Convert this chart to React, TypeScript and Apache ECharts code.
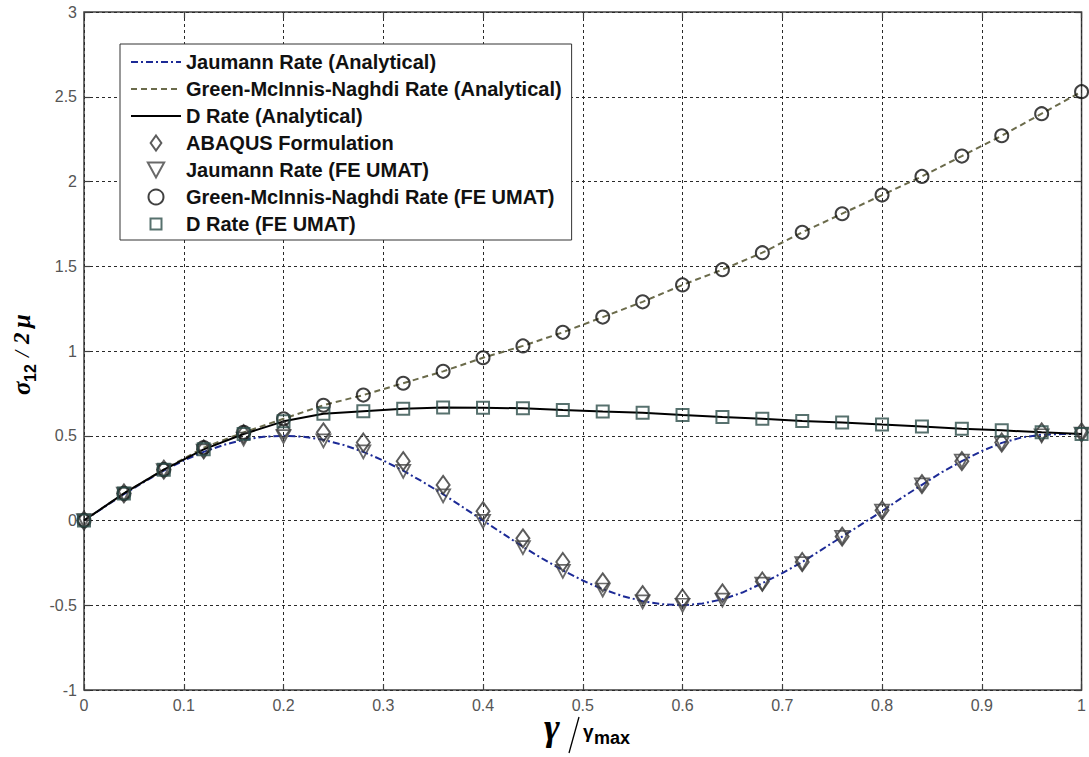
import { useEffect, useRef } from "react";
import * as echarts from "echarts";

// Normalised shear strain gamma / gamma_max
const strainFine = [
  0, 0.02, 0.04, 0.06, 0.08, 0.1, 0.12, 0.14, 0.16, 0.18, 0.2, 0.22, 0.24, 0.26, 0.28, 0.3, 0.32,
  0.34, 0.36, 0.38, 0.4, 0.42, 0.44, 0.46, 0.48, 0.5, 0.52, 0.54, 0.56, 0.58, 0.6, 0.62, 0.64, 0.66,
  0.68, 0.7, 0.72, 0.74, 0.76, 0.78, 0.8, 0.82, 0.84, 0.86, 0.88, 0.9, 0.92, 0.94, 0.96, 0.98, 1,
];
const strainFE = [
  0, 0.04, 0.08, 0.12, 0.16, 0.2, 0.24, 0.28, 0.32, 0.36, 0.4, 0.44, 0.48, 0.52, 0.56, 0.6, 0.64,
  0.68, 0.72, 0.76, 0.8, 0.84, 0.88, 0.92, 0.96, 1,
];

// Shear stress sigma_12 / 2mu
const jaumannAnalytical = [
  0, 0.078, 0.155, 0.227, 0.294, 0.354, 0.405, 0.446, 0.476, 0.494, 0.5, 0.494, 0.476, 0.446, 0.405,
  0.354, 0.294, 0.227, 0.155, 0.078, 0, -0.078, -0.155, -0.227, -0.294, -0.354, -0.405, -0.446,
  -0.476, -0.494, -0.5, -0.49, -0.465, -0.425, -0.37, -0.31, -0.245, -0.17, -0.095, -0.02, 0.055,
  0.135, 0.21, 0.285, 0.35, 0.41, 0.458, 0.49, 0.506, 0.51, 0.51,
];
const gmnAnalytical = [
  0, 0.16, 0.3, 0.43, 0.52, 0.6, 0.68, 0.74, 0.81, 0.88, 0.96, 1.03, 1.11, 1.2, 1.29, 1.39, 1.48,
  1.58, 1.7, 1.81, 1.92, 2.03, 2.15, 2.27, 2.4, 2.53,
];
const dRateAnalytical = [
  0, 0.16, 0.3, 0.42, 0.51, 0.585, 0.63, 0.645, 0.66, 0.667, 0.665, 0.662, 0.652, 0.643, 0.635,
  0.622, 0.61, 0.6, 0.587, 0.578, 0.566, 0.555, 0.542, 0.532, 0.52, 0.51,
];
const abaqusFormulation = [
  0, 0.16, 0.3, 0.42, 0.51, 0.535, 0.52, 0.46, 0.35, 0.21, 0.055, -0.105, -0.245, -0.365, -0.44,
  -0.46, -0.43, -0.36, -0.245, -0.095, 0.06, 0.215, 0.35, 0.46, 0.52, 0.52,
];
const jaumannFE = [
  0, 0.155, 0.295, 0.41, 0.48, 0.495, 0.47, 0.405, 0.29, 0.145, -0.005, -0.16, -0.3, -0.41, -0.48,
  -0.5, -0.47, -0.375, -0.255, -0.1, 0.055, 0.21, 0.35, 0.455, 0.5, 0.51,
];
const gmnFE = [
  0, 0.16, 0.3, 0.43, 0.52, 0.6, 0.68, 0.74, 0.81, 0.88, 0.96, 1.03, 1.11, 1.2, 1.29, 1.39, 1.48,
  1.58, 1.7, 1.81, 1.92, 2.03, 2.15, 2.27, 2.4, 2.53,
];
const dRateFE = [
  0, 0.16, 0.3, 0.42, 0.51, 0.585, 0.63, 0.645, 0.66, 0.667, 0.665, 0.662, 0.652, 0.643, 0.635,
  0.622, 0.61, 0.6, 0.587, 0.578, 0.566, 0.555, 0.542, 0.532, 0.52, 0.51,
];

const seriesNames = [
  "Jaumann Rate (Analytical)",
  "Green-McInnis-Naghdi Rate (Analytical)",
  "D Rate (Analytical)",
  "ABAQUS Formulation",
  "Jaumann Rate (FE UMAT)",
  "Green-McInnis-Naghdi Rate (FE UMAT)",
  "D Rate (FE UMAT)",
];

const pair = (xs: number[], ys: number[]) => xs.map((x, i) => [x, ys[i]]);

const DIAMOND = "path://M5,0 L10,7 L5,14 L0,7 Z";
const TRIANGLE_DOWN = "path://M0,0 L12,0 L6,11 Z";
// Legend square drawn smaller than the legend icon box
const LEGEND_SQUARE = "path://M0,0 L0,0 M2,2 L13,2 L13,13 L2,13 Z M15,15 L15,15";

const axisColor = "#404040";
const labelStyle = { color: "#555", fontSize: 16, fontFamily: "Liberation Sans, Arial, sans-serif" };
const gridLine = { show: true, lineStyle: { color: "#2a2a2a", type: [3, 3] as number[], width: 1 } };
const tick = { show: true, inside: true, length: 6, lineStyle: { color: axisColor, width: 1.2 } };
const clear = "rgba(255,255,255,0)";

const hollow = (color: string, w = 1.8) => ({ color: clear, borderColor: color, borderWidth: w });

const option = {
  animation: false,
  backgroundColor: "#ffffff",
  grid: {
    left: 84,
    right: 3,
    top: 12,
    bottom: 67,
    show: true,
    borderColor: axisColor,
    borderWidth: 1.5,
    backgroundColor: "#ffffff",
  },
  xAxis: [
    {
      type: "value",
      min: 0,
      max: 1,
      interval: 0.1,
      position: "bottom",
      axisLine: { show: false, onZero: false },
      axisTick: tick,
      axisLabel: { ...labelStyle, margin: 7 },
      splitLine: gridLine,
    },
    {
      type: "value",
      min: 0,
      max: 1,
      interval: 0.1,
      position: "top",
      axisLine: { show: false, onZero: false },
      axisTick: tick,
      axisLabel: { show: false },
      splitLine: { show: false },
    },
  ],
  yAxis: [
    {
      type: "value",
      min: -1,
      max: 3,
      interval: 0.5,
      position: "left",
      axisLine: { show: false, onZero: false },
      axisTick: tick,
      axisLabel: { ...labelStyle, margin: 7 },
      splitLine: gridLine,
    },
    {
      type: "value",
      min: -1,
      max: 3,
      interval: 0.5,
      position: "right",
      axisLine: { show: false, onZero: false },
      axisTick: tick,
      axisLabel: { show: false },
      splitLine: { show: false },
    },
  ],
  legend: {
    orient: "vertical",
    left: 120,
    top: 44,
    padding: [8, 10, 6, 10],
    itemGap: 7,
    itemWidth: 50,
    itemHeight: 15,
    selectedMode: false,
    backgroundColor: "#ffffff",
    borderColor: "#333",
    borderWidth: 1,
    textStyle: {
      fontFamily: "Liberation Sans, Arial, sans-serif",
      fontSize: 20,
      fontWeight: "bold",
      color: "#111",
      lineHeight: 20,
    },
    data: [
      seriesNames[0],
      seriesNames[1],
      seriesNames[2],
      seriesNames[3],
      seriesNames[4],
      seriesNames[5],
      { name: seriesNames[6], icon: LEGEND_SQUARE },
    ],
  },
  series: [
    {
      name: seriesNames[0],
      type: "line",
      data: pair(strainFine, jaumannAnalytical),
      symbol: "none",
      lineStyle: { color: "#1c2a96", width: 2, type: [7, 3, 2, 3] },
      itemStyle: { color: clear, borderWidth: 0 },
      z: 2,
    },
    {
      name: seriesNames[1],
      type: "line",
      data: pair(strainFE, gmnAnalytical),
      symbol: "none",
      lineStyle: { color: "#6b6b4b", width: 2, type: [6, 4] },
      itemStyle: { color: clear, borderWidth: 0 },
      z: 2,
    },
    {
      name: seriesNames[2],
      type: "line",
      data: pair(strainFE, dRateAnalytical),
      symbol: "none",
      lineStyle: { color: "#000000", width: 2, type: "solid" },
      itemStyle: { color: clear, borderWidth: 0 },
      z: 3,
    },
    {
      name: seriesNames[3],
      type: "scatter",
      data: pair(strainFE, abaqusFormulation),
      symbol: DIAMOND,
      symbolSize: [13, 18],
      itemStyle: hollow("#333333", 2),
      z: 4,
    },
    {
      name: seriesNames[4],
      type: "scatter",
      data: pair(strainFE, jaumannFE),
      symbol: TRIANGLE_DOWN,
      symbolSize: [14, 13],
      itemStyle: hollow("#444444", 1.8),
      z: 4,
    },
    {
      name: seriesNames[5],
      type: "scatter",
      data: pair(strainFE, gmnFE),
      symbol: "circle",
      symbolSize: 13,
      itemStyle: hollow("#111111", 2),
      z: 4,
    },
    {
      name: seriesNames[6],
      type: "scatter",
      data: pair(strainFE, dRateFE),
      symbol: "rect",
      symbolSize: 12,
      itemStyle: hollow("#2d4d4a", 2),
      z: 4,
    },
  ],
  graphic: [
    {
      type: "group",
      x: 21,
      y: 345,
      rotation: Math.PI / 2,
      children: [
        { type: "text", x: -50, y: 0, style: { text: "σ", font: 'bold italic 25px "Liberation Serif"', fill: "#000", verticalAlign: "middle" } },
        { type: "text", x: -37, y: 9, style: { text: "12", font: 'bold 16px "Liberation Sans"', fill: "#000", verticalAlign: "middle" } },
        { type: "text", x: -12, y: 0, style: { text: "/", font: 'italic 22px "Liberation Serif"', fill: "#000", verticalAlign: "middle" } },
        { type: "text", x: 1, y: 0, style: { text: "2", font: 'bold italic 23px "Liberation Serif"', fill: "#000", verticalAlign: "middle" } },
        { type: "text", x: 17, y: 0, style: { text: "μ", font: 'bold italic 25px "Liberation Serif"', fill: "#000", verticalAlign: "middle" } },
      ],
    },
    { type: "text", x: 544, y: 727, style: { text: "γ", font: 'bold italic 38px "Liberation Serif"', fill: "#000", verticalAlign: "middle" } },
    { type: "line", shape: { x1: 579, y1: 717, x2: 569, y2: 753 }, style: { stroke: "#000", lineWidth: 1.3 } },
    { type: "text", x: 583, y: 731, style: { text: "γ", font: 'bold 19px "Liberation Sans"', fill: "#000", verticalAlign: "middle" } },
    { type: "text", x: 594, y: 738, style: { text: "max", font: 'bold 18px "Liberation Sans"', fill: "#000", verticalAlign: "middle" } },
  ],
};

export default function App() {
  const ref = useRef<HTMLDivElement>(null);
  useEffect(() => {
    const chart = echarts.init(ref.current!, null, { renderer: "svg" });
    chart.setOption(option as any);
    return () => chart.dispose();
  }, []);
  return <div ref={ref} style={{ position: "absolute", left: 0, top: 0, width: 1089, height: 757 }} />;
}
